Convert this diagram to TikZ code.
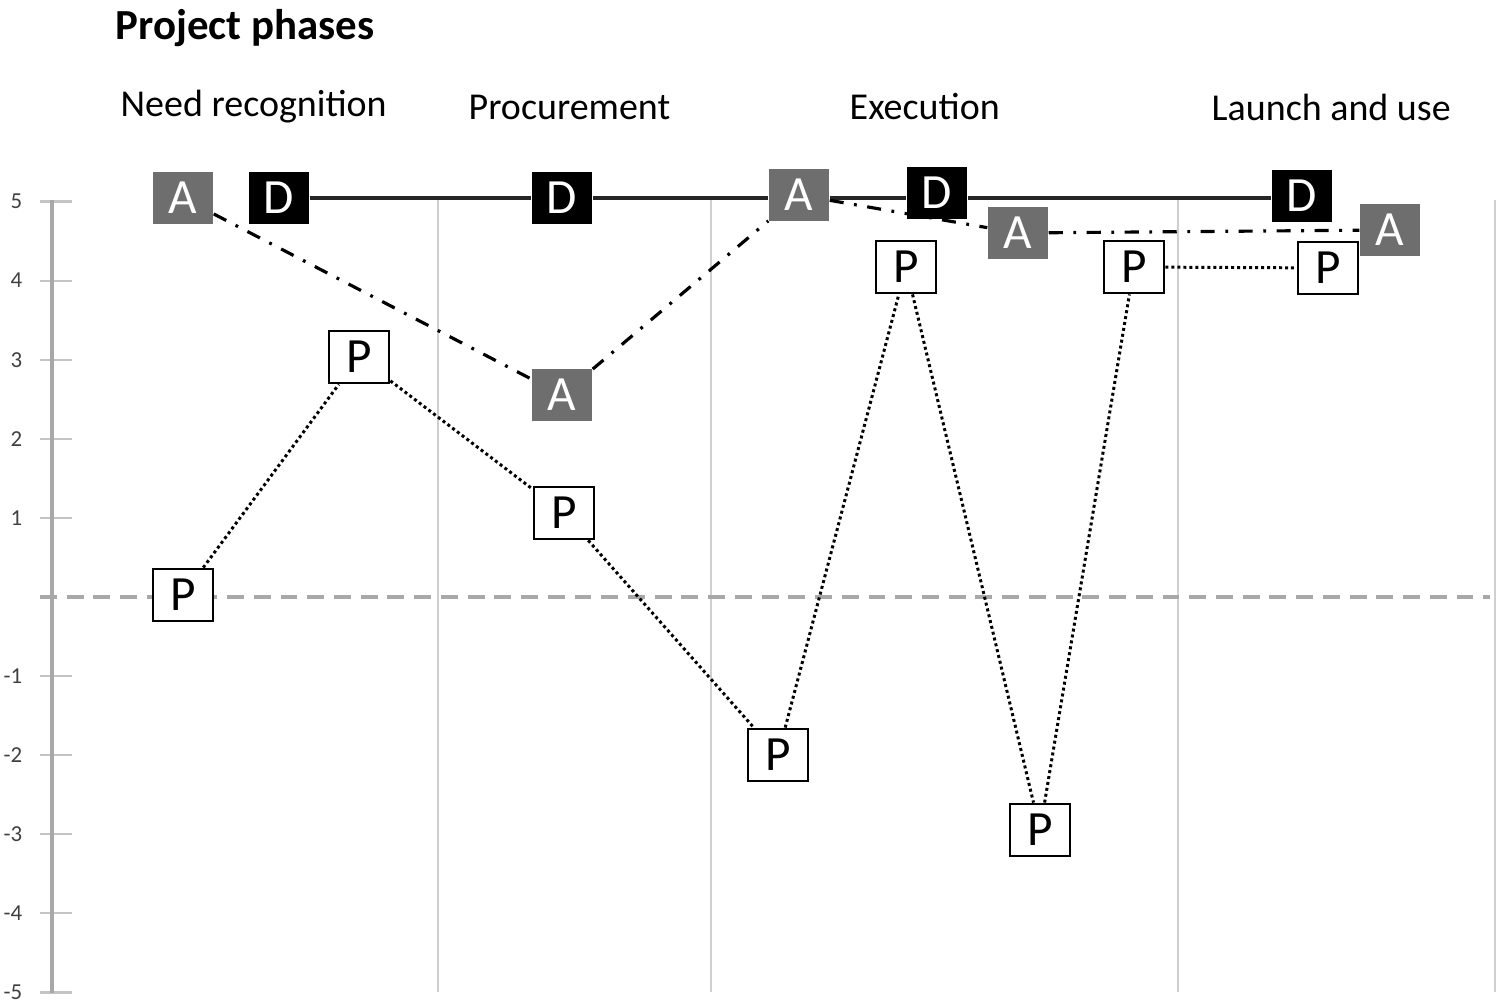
\documentclass[tikz,border=0pt]{standalone}
\usepackage{fontspec}
\setmainfont{Carlito}
\definecolor{boxgray}{HTML}{6E6E6E}
\definecolor{gridgray}{HTML}{CFCFCF}
\definecolor{axisgray}{HTML}{A8A8A8}
\definecolor{tickgray}{HTML}{C4C4C4}
\tikzset{
  markbox/.style={minimum width=0.6cm, minimum height=0.52cm, inner sep=0pt, font=\fontsize{14}{14}\selectfont},
  abox/.style={markbox, fill=boxgray, text=white},
  dbox/.style={markbox, fill=black, text=white},
  pbox/.style={markbox, draw=black, line width=0.8pt, fill=white},
  dline/.style={line width=0.9pt, black!85},
  aline/.style={line width=0.9pt, dash pattern=on 4pt off 3pt on 0.8pt off 3pt},
  pline/.style={line width=0.85pt, dash pattern=on 0.85pt off 0.85pt},
  phase/.style={anchor=west, inner sep=0pt, font=\fontsize{10.8}{12}\selectfont},
  ticklabel/.style={anchor=east, inner sep=0pt, font=\fontsize{6.5}{7}\selectfont, text=black!75}
}
\begin{document}
\begin{tikzpicture}[x=0.01cm, y=-0.01cm]
\useasboundingbox (0,0) rectangle (1498,1004);

% headings
\node[anchor=west, inner sep=0pt, font=\bfseries\fontsize{12.2}{14}\selectfont] (title) at (115,28) {Project phases};
\node[phase] (need) at (120,107) {Need recognition};
\node[phase] (proc) at (468,107) {Procurement};
\node[phase] (exec) at (849,107) {Execution};
\node[phase] (launch) at (1211,107) {Launch and use};

% grid and axis
\foreach \gx in {438,711,1178,1495}
  \draw[gridgray, line width=0.6pt] (\gx,200) -- (\gx,992);
\foreach \v in {-5,...,-1,1,2,...,5} {
  \draw[tickgray, line width=0.6pt] (40,{597-79.1*\v}) -- (72,{597-79.1*\v});
  \node[ticklabel] (t\v) at (23,{597-79.1*\v}) {\v};
}
\draw[axisgray, line width=1pt] (52,200) -- (52,993);
\draw[axisgray, line width=1.1pt, dash pattern=on 4.8pt off 2.8pt] (40,597) -- (1490,597);

% A, D and P marks
\node[abox] (a1) at (183,198) {A};
\node[abox] (a2) at (562,395) {A};
\node[abox] (a3) at (799,195) {A};
\node[abox] (a4) at (1018,233) {A};
\node[abox] (a5) at (1390,230) {A};

\node[dbox] (d1) at (279,198) {D};
\node[dbox] (d2) at (562,198) {D};
\node[dbox] (d3) at (937,193) {D};
\node[dbox] (d4) at (1302,196) {D};

\node[pbox] (p1) at (183,595) {P};
\node[pbox] (p2) at (359,357) {P};
\node[pbox] (p3) at (564,513) {P};
\node[pbox] (p4) at (778,755) {P};
\node[pbox] (p5) at (906,267) {P};
\node[pbox] (p6) at (1040,830) {P};
\node[pbox] (p7) at (1134,267) {P};
\node[pbox] (p8) at (1328,268) {P};

% connectors
\draw[dline] (d1.east) -- (d1.east -| d2.west);
\draw[dline] (d2.east) -- (d1.east -| a3.west);
\draw[dline] (d1.east -| a3.east) -- (d1.east -| d3.west);
\draw[dline] (d1.east -| d3.east) -- (d1.east -| d4.west);

\draw[aline] (a1) -- (a2) -- (a3) -- (a4) -- (a5);

\draw[pline] (p1) -- (p2) -- (p3) -- (p4) -- (p5) -- (p6) -- (p7) -- (p8);
\end{tikzpicture}
\end{document}
